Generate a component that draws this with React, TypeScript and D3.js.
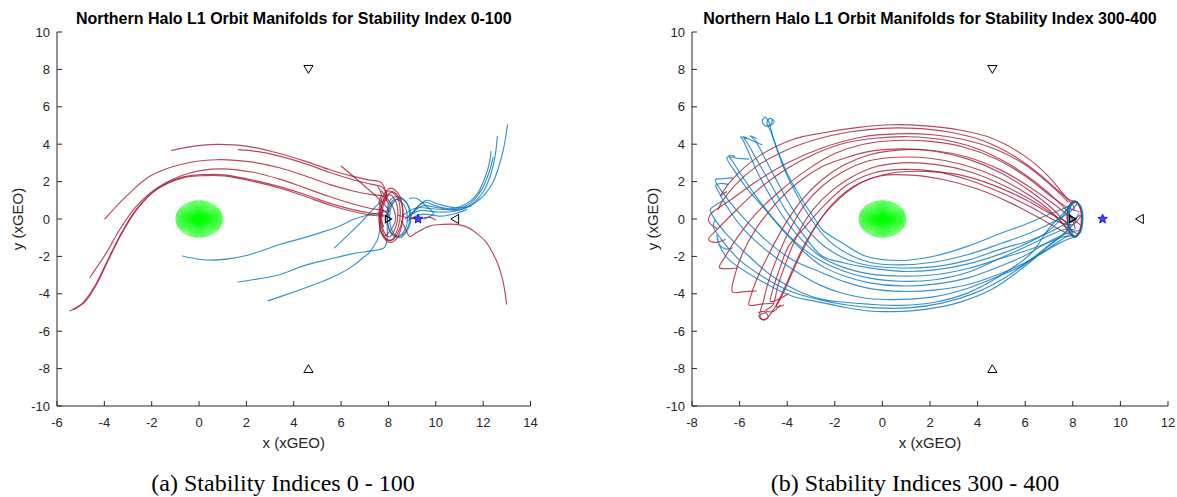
import React from "react";
import * as d3 from "d3";

type Pt = [number, number];

// ---------- axes / labels ----------
const X_TICKS_A = [-6, -4, -2, 0, 2, 4, 6, 8, 10, 12, 14];
const X_TICKS_B = [-8, -6, -4, -2, 0, 2, 4, 6, 8, 10, 12];
const Y_TICKS = [-10, -8, -6, -4, -2, 0, 2, 4, 6, 8, 10];
const TITLE_A = "Northern Halo L1 Orbit Manifolds for Stability Index 0-100";
const TITLE_B = "Northern Halo L1 Orbit Manifolds for Stability Index 300-400";
const CAPTION_A = "(a) Stability Indices 0 - 100";
const CAPTION_B = "(b) Stability Indices 300 - 400";
const X_LABEL = "x (xGEO)";
const Y_LABEL = "y (xGEO)";

// ---------- reference points (xGEO) ----------
const EARTH: Pt = [0, 0];
const EARTH_RADIUS = 1;
const L1_POINT: Pt = [8.0, 0];
const MOON: Pt = [9.25, 0];
const L2_POINT: Pt = [10.8, 0];
const L4_POINT: Pt = [4.62, 8];
const L5_POINT: Pt = [4.62, -8];

// ---------- panel (a): stability index 0-100 ----------
const A_UNSTABLE: Pt[][] = [
  [[-1.15, 3.67], [-0.2, 3.9], [0.73, 3.99], [2.0, 3.9], [3.4, 3.5], [4.5, 3.08], [5.5, 2.65], [6.5, 2.28], [7.2, 2.08], [7.69, 1.96], [7.88, 1.5], [7.92, 1.0]],
  [[1.67, 3.71], [2.5, 3.6], [3.4, 3.36], [4.5, 2.95], [5.5, 2.5], [6.5, 2.1], [7.3, 1.85], [7.75, 1.7], [7.95, 1.2]],
  [[-3.98, 0.0], [-3.07, 1.22], [-2.08, 2.28], [-0.82, 2.9], [0.73, 3.17], [2.27, 3.04], [3.4, 2.74], [4.5, 2.3], [5.5, 1.85], [6.5, 1.5], [7.3, 1.3], [7.8, 1.2], [8.0, 0.8]],
  [[-4.62, -3.14], [-3.91, -1.8], [-3.35, -0.56], [-2.65, 0.68], [-1.66, 1.75], [-0.4, 2.46], [0.87, 2.68], [2.27, 2.5], [3.4, 2.13], [4.5, 1.65], [5.5, 1.2], [6.5, 0.8], [7.3, 0.55], [7.8, 0.45], [8.0, 0.2]],
  [[-5.46, -4.92], [-4.9, -4.47], [-4.4, -3.58], [-3.91, -2.34], [-3.35, -0.92], [-2.65, 0.51], [-1.8, 1.57], [-0.68, 2.2], [0.31, 2.32], [1.15, 2.29], [2.56, 1.93], [3.4, 1.66], [4.5, 1.2], [5.5, 0.75], [6.5, 0.4], [7.3, 0.2], [7.8, 0.15]],
  [[-5.3, -4.85], [-4.8, -4.4], [-4.33, -3.5], [-3.85, -2.25], [-3.3, -0.85], [-2.6, 0.56], [-1.76, 1.62], [-0.66, 2.25], [0.31, 2.38], [1.15, 2.35], [2.56, 2.0], [3.4, 1.73], [4.5, 1.3], [5.5, 0.85], [6.5, 0.5], [7.3, 0.3], [7.8, 0.2]],
  [[6.01, 2.82], [6.5, 2.3], [7.0, 1.75], [7.5, 1.2], [7.85, 0.75], [8.05, 0.4]],
  [[8.55, -0.1], [8.75, -0.6], [8.9, -0.95], [9.17, -0.74], [9.73, -0.38], [10.29, -0.29], [10.86, -0.29], [11.3, -0.42], [11.7, -0.74], [12.1, -1.2], [12.4, -1.81], [12.65, -2.5], [12.82, -3.23], [12.92, -3.9], [12.99, -4.56]],
  [[8.4, 0.2], [8.9, 0.05], [9.3, 0.0], [9.7, 0.1], [10.0, -0.05]],
  [[7.55, 1.75], [7.7, 1.3], [7.6, 0.9], [7.75, 0.5], [7.65, 0.1], [7.8, -0.4]],
  [[7.7, 1.5], [7.95, 1.1], [8.2, 0.6], [8.3, 0.0], [8.1, -0.6], [7.85, -0.9]],
];
const A_UNSTABLE_LOOPS: Pt[][] = [
  [[8.1, 1.65], [8.45, 1.3], [8.6, 0.5], [8.55, -0.4], [8.35, -1.05], [8.05, -1.25], [7.75, -0.9], [7.6, -0.1], [7.65, 0.8], [7.85, 1.4]],
  [[8.2, 1.45], [8.5, 1.0], [8.62, 0.2], [8.45, -0.6], [8.2, -1.1], [7.9, -1.05], [7.7, -0.4], [7.68, 0.5], [7.9, 1.2]],
  [[8.0, 1.5], [8.35, 1.2], [8.5, 0.4], [8.4, -0.5], [8.1, -1.15], [7.8, -0.95], [7.62, -0.2], [7.7, 0.7]],
  [[8.05, 1.3], [8.3, 0.95], [8.4, 0.3], [8.3, -0.45], [8.05, -0.95], [7.82, -0.7], [7.72, 0.0], [7.8, 0.8]],
];
const A_STABLE: Pt[][] = [
  [[-0.7, -1.98], [0.0, -2.15], [0.59, -2.2], [1.3, -2.12], [2.0, -1.95], [2.7, -1.68], [3.4, -1.36], [4.3, -1.05], [5.1, -0.74], [5.9, -0.4], [6.5, -0.03], [7.1, 0.2], [7.62, 0.33], [8.0, 0.45]],
  [[1.64, -3.37], [2.5, -3.2], [3.4, -2.98], [4.38, -2.52], [5.5, -2.15], [6.5, -1.85], [7.2, -1.72], [7.62, -1.63], [7.85, -1.5], [7.95, -0.9], [7.95, -0.2], [8.05, 0.6], [8.2, 0.9]],
  [[2.91, -4.38], [4.0, -3.9], [5.09, -3.4], [5.9, -2.95], [6.49, -2.52], [6.9, -2.1], [7.2, -1.79], [7.4, -1.4], [7.55, -1.07], [7.65, -0.4], [7.69, 0.16], [7.8, 0.5]],
  [[5.72, -1.54], [6.3, -0.85], [6.9, -0.1], [7.3, 0.45], [7.62, 0.86], [7.9, 1.0]],
  [[8.6, 0.2], [9.2, 0.6], [9.8, 0.55], [10.29, 0.51], [11.07, 0.51], [11.84, 1.04], [12.4, 1.93], [12.82, 3.53], [13.03, 5.04]],
  [[8.7, 0.0], [9.3, 0.45], [10.0, 0.38], [10.7, 0.4], [11.4, 0.7], [11.95, 1.35], [12.3, 2.3], [12.52, 3.5], [12.6, 4.42]],
  [[8.9, 0.1], [9.5, 0.9], [10.0, 0.7], [10.6, 0.55], [11.2, 0.75], [11.75, 1.35], [12.1, 2.3], [12.28, 3.1], [12.33, 3.6]],
  [[8.85, 0.15], [9.45, 0.7], [10.1, 0.6], [10.8, 0.5], [11.45, 0.85], [11.95, 1.6], [12.25, 2.5], [12.42, 3.3]],
  [[8.8, -0.1], [9.4, 0.25], [10.2, 0.15], [10.8, 0.28], [11.3, 0.5]],
  [[9.0, 0.3], [9.6, 1.0], [10.1, 0.8], [10.8, 0.6], [11.49, 0.68]],
  [[8.9, 1.1], [9.2, 1.1], [9.5, 0.8], [9.9, 0.3], [9.5, 0.0]],
];
const A_STABLE_LOOPS: Pt[][] = [
  [[8.4, 1.2], [8.75, 0.9], [8.9, 0.2], [8.8, -0.5], [8.5, -0.9], [8.2, -0.85], [7.98, -0.3], [7.95, 0.5], [8.1, 1.05]],
  [[8.35, 1.05], [8.65, 0.75], [8.8, 0.1], [8.7, -0.55], [8.4, -0.95], [8.1, -0.75], [7.95, -0.1], [8.0, 0.6], [8.15, 0.95]],
  [[8.5, 1.1], [8.85, 0.7], [8.95, 0.0], [8.75, -0.7], [8.45, -1.0], [8.15, -0.6], [8.05, 0.2], [8.2, 0.85]],
];

// ---------- panel (b): stability index 300-400 ----------
const B_UNSTABLE: Pt[][] = [
  [[8.05, 0.5], [8.03, 0.68], [7.68, 1.21], [6.98, 2.28], [6.0, 3.35], [4.6, 4.32], [3.2, 4.77], [1.8, 4.98], [0.4, 5.04], [-1.0, 4.9], [-2.54, 4.6], [-3.8, 4.24], [-5.2, 3.35], [-6.32, 2.1], [-6.81, 1.22], [-6.7, 1.35], [-6.55, 1.45]],
  [[8.2, 0.9], [7.9, 1.0], [7.4, 1.5], [6.6, 2.4], [5.5, 3.4], [4.2, 4.2], [2.8, 4.65], [1.4, 4.85], [0.0, 4.85], [-1.4, 4.65], [-2.8, 4.25], [-4.0, 3.7], [-5.3, 2.8], [-6.2, 1.8], [-6.75, 0.9], [-6.9, 0.5]],
  [[7.8, 0.9], [7.5, 1.3], [6.9, 2.0], [6.0, 2.9], [4.8, 3.7], [3.4, 4.25], [2.0, 4.52], [0.6, 4.55], [-0.8, 4.4], [-2.54, 3.8], [-4.0, 3.0], [-5.3, 2.0], [-6.4, 1.0], [-7.0, 0.5], [-7.25, 0.2], [-7.3, -0.1], [-7.15, -0.35], [-6.95, -0.5]],
  [[8.1, -0.5], [7.9, 0.2], [7.4, 0.9], [6.5, 1.9], [5.3, 2.95], [3.9, 3.8], [2.5, 4.25], [1.1, 4.4], [-0.3, 4.32], [-1.6, 4.05], [-2.8, 3.5], [-4.0, 2.7], [-5.2, 1.6], [-6.2, 0.4], [-6.9, -0.5], [-7.3, -1.1], [-7.0, -1.25], [-6.6, -1.1]],
  [[8.25, 0.4], [7.8, 0.6], [7.0, 1.3], [6.0, 2.3], [4.8, 3.2], [3.4, 3.85], [2.0, 4.15], [0.6, 4.2], [-0.8, 4.0], [-2.0, 3.5], [-3.2, 2.6], [-4.3, 1.5], [-5.3, 0.3], [-6.1, -1.0], [-6.6, -2.0], [-6.85, -2.6], [-6.5, -2.65], [-6.1, -2.62]],
  [[8.0, -0.7], [7.7, -0.2], [7.1, 0.6], [6.2, 1.5], [5.0, 2.45], [3.6, 3.2], [2.2, 3.62], [0.8, 3.75], [-0.6, 3.6], [-1.6, 3.25], [-2.54, 2.8], [-3.6, 1.9], [-4.5, 0.8], [-5.3, -0.5], [-5.9, -1.9], [-6.2, -3.0], [-6.3, -3.9], [-5.8, -3.88], [-5.3, -3.85]],
  [[8.3, -0.3], [7.9, 0.1], [7.2, 0.8], [6.2, 1.7], [5.0, 2.6], [3.6, 3.3], [2.2, 3.65], [0.8, 3.7], [-0.5, 3.45], [-1.6, 2.9], [-2.54, 2.1], [-3.4, 1.0], [-4.1, -0.3], [-4.7, -1.7], [-5.2, -3.0], [-5.5, -4.0], [-5.6, -4.6], [-5.1, -4.55], [-4.6, -4.5]],
  [[7.85, -0.75], [7.6, -0.3], [7.0, 0.5], [6.0, 1.4], [4.8, 2.25], [3.4, 2.9], [2.0, 3.25], [0.6, 3.3], [-0.6, 3.1], [-1.7, 2.5], [-2.54, 1.75], [-3.3, 0.7], [-3.9, -0.6], [-4.4, -2.0], [-4.8, -3.4], [-5.0, -4.4], [-5.15, -5.1], [-5.05, -5.38], [-4.8, -5.25], [-4.95, -4.95], [-5.2, -5.0]],
  [[8.2, -0.8], [7.8, -0.5], [7.2, 0.2], [6.2, 1.05], [5.0, 1.85], [3.6, 2.55], [2.2, 2.92], [0.8, 3.0], [-0.4, 2.75], [-1.6, 2.0], [-2.54, 1.04], [-3.2, 0.0], [-3.7, -1.2], [-4.1, -2.5], [-4.4, -3.6], [-4.6, -4.6], [-4.9, -4.9], [-4.6, -4.95], [-4.3, -4.6]],
  [[8.35, 0.2], [8.0, -0.3], [7.3, -0.1], [6.3, 0.6], [5.0, 1.4], [3.6, 2.1], [2.2, 2.55], [0.8, 2.65], [-0.4, 2.45], [-1.5, 1.8], [-2.54, 0.6], [-3.3, -0.5], [-3.94, -1.45], [-4.3, -2.6], [-4.64, -3.94], [-4.7, -4.4], [-4.3, -4.25], [-3.95, -4.0]],
  [[7.82, -0.2], [6.98, 0.33], [6.0, 1.04], [4.6, 1.84], [3.2, 2.37], [1.8, 2.55], [0.4, 2.46], [-0.8, 2.0], [-1.8, 1.1], [-2.6, 0.0], [-3.2, -1.2], [-3.7, -2.5], [-4.15, -3.8], [-4.6, -4.9], [-4.95, -5.4], [-5.2, -5.2], [-4.9, -5.0]],
  [[8.1, -0.95], [7.5, -0.6], [6.6, 0.05], [5.4, 0.85], [4.0, 1.6], [2.6, 2.1], [1.2, 2.35], [-0.1, 2.3], [-1.2, 1.75], [-2.1, 0.8], [-2.8, -0.4], [-3.4, -1.8], [-3.9, -3.2], [-4.25, -4.2], [-4.45, -4.7], [-4.15, -4.6]],
];
const B_UNSTABLE_LOOPS: Pt[][] = [
  [[8.05, 0.97], [8.28, 0.7], [8.36, 0.1], [8.3, -0.55], [8.12, -0.92], [7.9, -0.75], [7.78, -0.1], [7.8, 0.55]],
  [[8.1, 0.9], [8.32, 0.55], [8.38, -0.1], [8.28, -0.7], [8.05, -0.95], [7.85, -0.6], [7.76, 0.05], [7.85, 0.7]],
];
const B_STABLE: Pt[][] = [
  [[7.95, 0.8], [7.82, 0.68], [6.98, 0.24], [6.0, -0.29], [5.0, -0.75], [3.6, -1.45], [2.2, -1.98], [0.8, -2.22], [-0.72, -1.98], [-1.7, -1.27], [-2.54, -0.56], [-2.82, -0.03], [-3.38, 1.04], [-3.94, 2.28], [-4.36, 3.53], [-4.62, 4.5], [-4.78, 5.2], [-4.92, 5.45], [-5.05, 5.25], [-4.92, 4.98], [-4.7, 5.05], [-4.62, 5.3]],
  [[8.2, 0.85], [7.9, 0.4], [7.2, -0.15], [6.2, -0.75], [5.0, -1.3], [3.6, -1.9], [2.2, -2.3], [0.8, -2.45], [-0.4, -2.35], [-1.4, -1.9], [-2.3, -1.1], [-3.0, 0.0], [-3.6, 1.3], [-4.1, 2.6], [-4.45, 3.8], [-4.7, 4.7], [-4.85, 5.15], [-4.72, 5.38], [-4.55, 5.2], [-4.8, 4.92]],
  [[7.85, 0.75], [7.5, 0.0], [6.8, -0.8], [5.9, -1.4], [5.0, -1.85], [3.6, -2.4], [2.2, -2.72], [0.8, -2.8], [-0.6, -2.6], [-1.6, -2.35], [-2.54, -1.98], [-3.38, -0.74], [-4.08, 0.5], [-4.64, 1.75], [-5.2, 2.99], [-5.6, 3.9], [-5.83, 4.4], [-5.72, 4.35], [-5.45, 4.18], [-5.06, 3.97]],
  [[8.0, -0.9], [7.6, -0.95], [6.8, -1.35], [5.9, -1.75], [5.0, -2.1], [3.6, -2.65], [2.2, -2.98], [0.8, -3.05], [-0.5, -2.95], [-1.6, -2.6], [-2.6, -2.0], [-3.4, -1.1], [-4.1, 0.0], [-4.7, 1.2], [-5.25, 2.5], [-5.6, 3.5], [-5.85, 4.2], [-5.95, 4.4], [-5.7, 4.3]],
  [[8.3, -0.6], [7.8, -0.75], [7.0, -1.2], [6.0, -1.95], [5.0, -2.5], [3.6, -3.15], [2.2, -3.48], [0.8, -3.58], [-0.6, -3.4], [-1.6, -3.05], [-2.54, -2.52], [-3.1, -1.98], [-4.08, -0.74], [-4.92, 0.5], [-5.76, 1.75], [-6.25, 2.64], [-6.53, 3.3], [-6.1, 3.25], [-5.62, 3.2]],
  [[8.2, -0.9], [7.5, -1.25], [6.8, -1.75], [5.9, -2.4], [5.0, -2.9], [3.6, -3.5], [2.2, -3.8], [0.8, -3.87], [-0.5, -3.72], [-1.6, -3.35], [-2.54, -2.87], [-3.8, -2.16], [-4.92, -1.1], [-5.9, 0.15], [-6.6, 1.22], [-7.02, 2.1], [-6.7, 2.15], [-6.3, 2.2]],
  [[7.8, -0.9], [7.4, -1.2], [6.6, -1.9], [5.8, -2.55], [5.0, -3.0], [3.6, -3.7], [2.2, -4.15], [0.8, -4.3], [-0.6, -4.25], [-1.6, -4.0], [-2.6, -3.55], [-3.7, -2.75], [-4.8, -1.75], [-5.8, -0.6], [-6.5, 0.6], [-6.9, 1.5], [-7.0, 1.8], [-6.8, 1.9], [-6.5, 1.85]],
  [[8.0, 0.9], [7.6, 0.3], [7.0, -0.5], [6.28, -1.8], [5.0, -3.0], [3.6, -3.95], [2.2, -4.45], [0.8, -4.62], [-0.6, -4.55], [-1.6, -4.45], [-2.54, -4.3], [-3.38, -3.94], [-4.64, -3.05], [-5.76, -1.81], [-6.6, -0.74], [-7.1, 0.1], [-7.23, 0.51], [-7.0, 0.75], [-6.75, 0.95]],
  [[7.9, -0.3], [7.68, -0.74], [6.98, -1.45], [6.0, -2.51], [4.6, -3.76], [3.2, -4.47], [1.8, -4.83], [0.4, -4.95], [-0.6, -4.92], [-1.6, -4.72], [-2.54, -4.47], [-3.8, -4.12], [-5.2, -3.23], [-6.46, -2.16], [-6.85, -1.4], [-6.95, -0.83], [-6.88, -1.3], [-6.6, -1.6], [-6.3, -1.55]],
  [[8.25, 0.3], [7.95, -0.4], [7.3, -1.1], [6.4, -2.0], [5.2, -3.1], [3.9, -3.95], [2.5, -4.5], [1.1, -4.75], [-0.3, -4.75], [-1.5, -4.6], [-2.7, -4.3], [-3.9, -3.85], [-5.0, -3.1], [-6.0, -2.2], [-6.7, -1.2], [-7.1, -0.4], [-7.05, -0.1]],
  [[8.1, -0.6], [7.7, -0.55], [6.9, -0.95], [6.0, -1.5], [5.0, -2.07], [3.6, -2.85], [2.2, -3.25], [0.8, -3.33], [-0.6, -3.15], [-1.7, -2.75], [-2.7, -2.15], [-3.6, -1.3], [-4.5, -0.1], [-5.3, 1.2], [-5.9, 2.3], [-6.3, 3.1], [-6.45, 3.4], [-6.2, 3.35]],
  [[8.3, 0.2], [7.9, -0.1], [7.2, -0.6], [6.2, -1.15], [5.0, -1.6], [3.6, -2.2], [2.2, -2.55], [0.8, -2.62], [-0.5, -2.5], [-1.5, -2.15], [-2.4, -1.5], [-3.2, -0.5], [-3.9, 0.8], [-4.5, 2.2], [-5.0, 3.4], [-5.35, 4.2], [-5.55, 4.45], [-5.3, 4.3]],
];
const B_STABLE_LOOPS: Pt[][] = [
  [[8.1, 0.95], [8.35, 0.65], [8.4, 0.0], [8.32, -0.65], [8.1, -0.98], [7.88, -0.7], [7.8, 0.0], [7.88, 0.65]],
  [[8.15, 0.88], [8.38, 0.5], [8.42, -0.15], [8.3, -0.75], [8.08, -0.9], [7.9, -0.5], [7.84, 0.15], [7.95, 0.75]],
];

// ---------- styling ----------
const W = 1177;
const H = 497;
const RED = "#A2142F";
const BLUE = "#0072BD";
const AXIS = "#262626";
const Y_RANGE: [number, number] = [406, 32];
const SANS = "'Liberation Sans', Arial, Helvetica, sans-serif";
const SERIF = "'Liberation Serif', 'Times New Roman', serif";

interface PanelProps {
  xDomain: [number, number];
  xRange: [number, number];
  xTicks: number[];
  title: string;
  caption: string;
  captionX: number;
  unstable: Pt[][];
  unstableLoops: Pt[][];
  stable: Pt[][];
  stableLoops: Pt[][];
  redOnTop: boolean;
}

function Panel(p: PanelProps) {
  const x = d3.scaleLinear().domain(p.xDomain).range(p.xRange);
  const y = d3.scaleLinear().domain([-10, 10]).range(Y_RANGE);
  const open = d3
    .line<Pt>()
    .x((d) => x(d[0]))
    .y((d) => y(d[1]))
    .curve(d3.curveCatmullRom.alpha(0.5));
  const closed = d3
    .line<Pt>()
    .x((d) => x(d[0]))
    .y((d) => y(d[1]))
    .curve(d3.curveCatmullRomClosed.alpha(0.5));

  const [x0, x1] = p.xRange;
  const [yb, yt] = Y_RANGE;
  const xMid = (x0 + x1) / 2;
  const yMid = (yb + yt) / 2;

  // Earth drawn as a radial burst of one Earth radius
  const ex = x(EARTH[0]);
  const ey = y(EARTH[1]);
  const rx = x(EARTH[0] + EARTH_RADIUS) - ex;
  const ry = ey - y(EARTH[1] + EARTH_RADIUS);
  const spokes = d3.range(0, 360, 3);

  const lineStyle = (c: string) => ({
    fill: "none",
    stroke: c,
    strokeWidth: 1.15,
    strokeOpacity: 0.78,
    strokeLinejoin: "round" as const,
    strokeLinecap: "round" as const,
  });

  const redGroup = (
    <g key="red">
      {p.unstable.map((d, i) => (
        <path key={"ru" + i} d={open(d) ?? ""} style={lineStyle(RED)} />
      ))}
      {p.unstableLoops.map((d, i) => (
        <path key={"rl" + i} d={closed(d) ?? ""} style={lineStyle(RED)} />
      ))}
    </g>
  );
  const blueGroup = (
    <g key="blue">
      {p.stable.map((d, i) => (
        <path key={"bs" + i} d={open(d) ?? ""} style={lineStyle(BLUE)} />
      ))}
      {p.stableLoops.map((d, i) => (
        <path key={"bl" + i} d={closed(d) ?? ""} style={lineStyle(BLUE)} />
      ))}
    </g>
  );

  const tri = (cx: number, cy: number, dir: "down" | "up" | "left" | "right", s: number) => {
    if (dir === "down") return `M${cx - s},${cy - s * 0.85}L${cx + s},${cy - s * 0.85}L${cx},${cy + s * 0.85}Z`;
    if (dir === "up") return `M${cx - s},${cy + s * 0.85}L${cx + s},${cy + s * 0.85}L${cx},${cy - s * 0.85}Z`;
    if (dir === "left") return `M${cx + s * 0.85},${cy - s}L${cx + s * 0.85},${cy + s}L${cx - s * 0.85},${cy}Z`;
    return `M${cx - s * 0.85},${cy - s}L${cx - s * 0.85},${cy + s}L${cx + s * 0.85},${cy}Z`;
  };
  const star = d3
    .lineRadial<number>()
    .angle((_, i) => (i * Math.PI) / 5)
    .radius((_, i) => (i % 2 === 0 ? 5 : 2.2))
    .curve(d3.curveLinearClosed);

  return (
    <g>
      {/* title */}
      <text x={xMid} y={23.5} textAnchor="middle" fontFamily={SANS} fontWeight="bold" fontSize={16} fill="#000">
        {p.title}
      </text>

      {/* Earth */}
      <g stroke="#00FF00" strokeWidth={0.75}>
        {spokes.map((a) => {
          const t = (a * Math.PI) / 180;
          return <line key={a} x1={ex} y1={ey} x2={ex + rx * Math.cos(t)} y2={ey - ry * Math.sin(t)} />;
        })}
      </g>

      {/* manifolds */}
      {p.redOnTop ? [blueGroup, redGroup] : [redGroup, blueGroup]}

      {/* Lagrange points and Moon */}
      <g fill="none" stroke="#000" strokeWidth={1}>
        <path d={tri(x(L4_POINT[0]), y(L4_POINT[1]), "down", 4.6)} />
        <path d={tri(x(L5_POINT[0]), y(L5_POINT[1]), "up", 4.6)} />
        <path d={tri(x(L2_POINT[0]), y(L2_POINT[1]), "left", 4.6)} />
        <path d={tri(x(L1_POINT[0]), y(L1_POINT[1]), "right", 3.6)} strokeWidth={1.2} />
      </g>
      <path
        d={star(d3.range(10)) ?? ""}
        transform={`translate(${x(MOON[0])},${y(MOON[1])})`}
        fill="#4040FF"
        stroke="#0000FF"
        strokeWidth={0.8}
      />

      {/* axes */}
      <g stroke={AXIS} strokeWidth={1} fill="none">
        <line x1={x0} y1={yb} x2={x1} y2={yb} />
        <line x1={x0} y1={yb} x2={x0} y2={yt} />
        {p.xTicks.map((t) => (
          <line key={"xt" + t} x1={x(t)} x2={x(t)} y1={yb} y2={yb - 5} />
        ))}
        {Y_TICKS.map((t) => (
          <line key={"yt" + t} x1={x0} x2={x0 + 5} y1={y(t)} y2={y(t)} />
        ))}
      </g>
      <g fontFamily={SANS} fontSize={13} fill={AXIS}>
        {p.xTicks.map((t) => (
          <text key={"xl" + t} x={x(t)} y={yb + 21} textAnchor="middle">
            {String(t)}
          </text>
        ))}
        {Y_TICKS.map((t) => (
          <text key={"yl" + t} x={x0 - 7} y={y(t) + 4.6} textAnchor="end">
            {String(t)}
          </text>
        ))}
      </g>
      <text x={xMid} y={448} textAnchor="middle" fontFamily={SANS} fontSize={15} fill={AXIS}>
        {X_LABEL}
      </text>
      <text
        transform={`translate(${x0 - 34},${yMid}) rotate(-90)`}
        textAnchor="middle"
        fontFamily={SANS}
        fontSize={15}
        fill={AXIS}
      >
        {Y_LABEL}
      </text>

      {/* sub-figure caption */}
      <text x={p.captionX} y={491} textAnchor="middle" fontFamily={SERIF} fontSize={24} fill="#000">
        {p.caption}
      </text>
    </g>
  );
}

export default function App() {
  return (
    <svg
      width={W}
      height={H}
      viewBox={`0 0 ${W} ${H}`}
      style={{ position: "absolute", left: 0, top: 0, background: "#fff" }}
    >
      <rect x={0} y={0} width={W} height={H} fill="#fff" />
      <Panel
        xDomain={[-6, 14]}
        xRange={[57, 530.5]}
        xTicks={X_TICKS_A}
        title={TITLE_A}
        caption={CAPTION_A}
        captionX={283}
        unstable={A_UNSTABLE}
        unstableLoops={A_UNSTABLE_LOOPS}
        stable={A_STABLE}
        stableLoops={A_STABLE_LOOPS}
        redOnTop={true}
      />
      <Panel
        xDomain={[-8, 12]}
        xRange={[692, 1168]}
        xTicks={X_TICKS_B}
        title={TITLE_B}
        caption={CAPTION_B}
        captionX={915}
        unstable={B_UNSTABLE}
        unstableLoops={B_UNSTABLE_LOOPS}
        stable={B_STABLE}
        stableLoops={B_STABLE_LOOPS}
        redOnTop={false}
      />
    </svg>
  );
}
